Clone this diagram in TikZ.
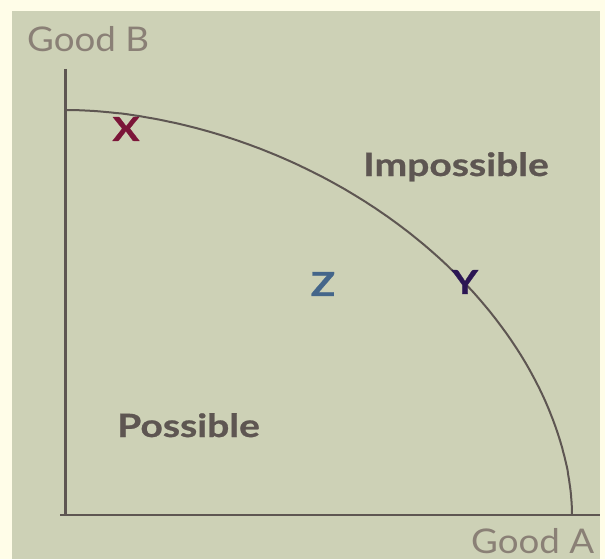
\documentclass[tikz,border=0pt]{standalone}
\usepackage{fontspec}
\setmainfont[FakeStretch=1.08]{Lato}
\newfontfamily\boldlab[FakeStretch=1.22, FakeBold=0.8]{Lato Bold}
\definecolor{cream}{RGB}{255,253,232}
\definecolor{panel}{RGB}{205,209,182}
\definecolor{axis}{RGB}{94,86,82}
\definecolor{axtext}{RGB}{138,128,118}
\definecolor{xcol}{RGB}{123,21,56}
\definecolor{zcol}{RGB}{68,102,138}
\definecolor{ycol}{RGB}{43,22,84}
\tikzset{
  axisline/.style={draw=axis, line width=2.6pt},
  ppf/.style={draw=axis, line width=2pt},
  axlabel/.style={text=axtext, inner sep=0pt, font=\fontsize{34}{34}\selectfont, anchor=base west},
  region/.style={text=axis, inner sep=0pt, font=\boldlab\fontsize{32}{32}\selectfont, anchor=base west},
  pointlab/.style={inner sep=0pt, font=\boldlab\fontsize{33}{33}\selectfont, anchor=center}
}
\begin{document}
\begin{tikzpicture}[x=1pt, y=-1pt]
\useasboundingbox (0,0) rectangle (605,559);
\fill[cream] (0,0) rectangle (605,559);
\fill[panel] (12,11) rectangle (600,559);
\coordinate (ytop) at (65.5,69);
\coordinate (origin) at (65.5,515);
\coordinate (xleft) at (60,515);
\coordinate (xright) at (600,515);
\draw[axisline] (ytop) -- (65.5,516.3);
\draw[axisline] (xleft) -- (xright);
\draw[ppf] plot[domain=0.05:89.95, samples=150, smooth, variable=\t]
  ({66+506*pow(cos(\t),1.081)}, {515-405*pow(sin(\t),1.081)});
\node[axlabel] (goodB) at (27,51.5) {Good B};
\node[axlabel] (goodA) at (471,553.5) {Good A};
\node[region] (imp) at (363,176) {Impossible};
\node[region] (pos) at (117,437) {Possible};
\node[pointlab, text=xcol] (X) at (126,129) {X};
\node[pointlab, text=zcol] (Z) at (323,284) {Z};
\node[pointlab, text=ycol] (Y) at (465,282) {Y};
\end{tikzpicture}
\end{document}
